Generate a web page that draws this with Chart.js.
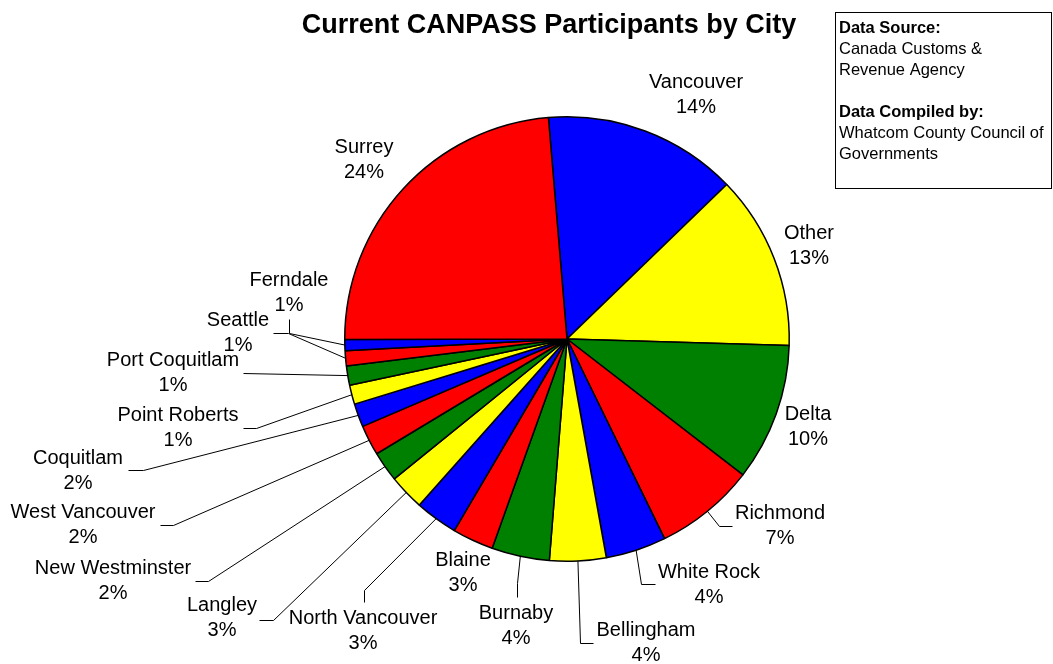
<!DOCTYPE html>
<html>
<head>
<meta charset="utf-8">
<title>Current CANPASS Participants by City</title>
<script src="https://cdn.jsdelivr.net/npm/chart.js@4.4.1/dist/chart.umd.min.js"></script>
<style>
    html, body { margin: 0; padding: 0; background: #ffffff; }
    #wrap { position: relative; width: 1053px; height: 664px; }
</style>
</head>
<body>
<div id="wrap"><canvas id="cityChart" width="1053" height="664"></canvas></div>
<script>
// Current CANPASS participants by home city (percent of all participants)
const cities = [
    'Vancouver', 'Other', 'Delta', 'Richmond', 'White Rock', 'Bellingham',
    'Burnaby', 'Blaine', 'North Vancouver', 'Langley', 'New Westminster',
    'West Vancouver', 'Coquitlam', 'Point Roberts', 'Port Coquitlam',
    'Seattle', 'Ferndale', 'Surrey'
];
const shares = [
    14.1, 12.7, 10.0, 7.3, 4.4, 4.1,
    4.2, 3.0, 3.1, 2.6, 2.2,
    2.2, 1.7, 1.4, 1.4,
    1.1, 0.8, 23.7
];
const sliceColors = [
    '#0000ff', '#ffff00', '#008000', '#ff0000', '#0000ff', '#ffff00',
    '#008000', '#ff0000', '#0000ff', '#ffff00', '#008000',
    '#ff0000', '#0000ff', '#ffff00', '#008000',
    '#ff0000', '#0000ff', '#ff0000'
];

const titleText = 'Current CANPASS Participants by City';
const noteLines = [
    { text: 'Data Source:', bold: true },
    { text: 'Canada Customs &', bold: false },
    { text: 'Revenue Agency', bold: false },
    { text: '', bold: false },
    { text: 'Data Compiled by:', bold: true },
    { text: 'Whatcom County Council of', bold: false },
    { text: 'Governments', bold: false }
];

const FONT = '"Liberation Sans", Arial, Helvetica, sans-serif';

// Label placement, offsets from the pie centre in px.
// text = centre of the city name line, line = leader line points after the rim anchor
const labelLayout = {
    'Vancouver':       { text: [129, -257] },
    'Other':           { text: [242, -106] },
    'Delta':           { text: [241, 75] },
    'Richmond':        { text: [213, 174], line: [[152, 187], [165, 187]] },
    'White Rock':      { text: [142, 233], line: [[74, 245], [88, 245]] },
    'Bellingham':      { text: [79, 291], line: [[13, 304], [26, 304]] },
    'Burnaby':         { text: [-51, 274], line: [[-50, 244], [-50, 258]] },
    'Blaine':          { text: [-104, 221] },
    'North Vancouver': { text: [-204, 279], line: [[-203, 251], [-203, 263]] },
    'Langley':         { text: [-345, 266], line: [[-294, 281], [-308, 281]] },
    'New Westminster': { text: [-454, 229], line: [[-359, 242], [-372, 242]] },
    'West Vancouver':  { text: [-484, 173], line: [[-394, 186], [-407, 186]] },
    'Coquitlam':       { text: [-489, 119], line: [[-424, 131], [-439, 131]] },
    'Point Roberts':   { text: [-389, 76], line: [[-311, 89], [-324, 89]] },
    'Port Coquitlam':  { text: [-394, 21], line: [[-324, 34]] },
    'Seattle':         { text: [-329, -19], line: [[-279, -6], [-294, -6]] },
    'Ferndale':        { text: [-278, -59], line: [[-278, -6], [-278, -20]] },
    'Surrey':          { text: [-203, -192] }
};

// Draws category names, rounded percentages and leader lines for each slice
const pieLabels = {
    id: 'pieLabels',
    afterDatasetsDraw(chart) {
        const ctx = chart.ctx;
        const arcs = chart.getDatasetMeta(0).data;
        const total = shares.reduce((a, b) => a + b, 0);

        ctx.save();
        ctx.fillStyle = '#000000';
        ctx.strokeStyle = '#000000';
        ctx.lineWidth = 1;
        ctx.font = '20px ' + FONT;
        ctx.textAlign = 'center';
        ctx.textBaseline = 'middle';

        arcs.forEach((arc, i) => {
            const p = arc.getProps(['x', 'y', 'startAngle', 'endAngle', 'outerRadius'], true);
            const mid = (p.startAngle + p.endAngle) / 2;
            const lay = labelLayout[cities[i]];

            if (lay.line) {
                ctx.beginPath();
                ctx.moveTo(p.x + Math.cos(mid) * p.outerRadius, p.y + Math.sin(mid) * p.outerRadius);
                lay.line.forEach(pt => ctx.lineTo(p.x + pt[0] + 0.5, p.y + pt[1] + 0.5));
                ctx.stroke();
            }

            const pct = Math.round(shares[i] / total * 100) + '%';
            const tx = p.x + lay.text[0];
            const ty = p.y + lay.text[1];
            ctx.fillText(cities[i], tx, ty);
            ctx.fillText(pct, tx, ty + 25);
        });
        ctx.restore();
    },
    afterDraw(chart) {
        const ctx = chart.ctx;
        ctx.save();

        // chart title
        ctx.fillStyle = '#000000';
        ctx.font = 'bold 27px ' + FONT;
        ctx.textAlign = 'center';
        ctx.textBaseline = 'middle';
        ctx.fillText(titleText, 549, 26);

        // source note box
        ctx.strokeStyle = '#000000';
        ctx.lineWidth = 1;
        ctx.strokeRect(835.5, 12.5, 216, 176);
        ctx.textAlign = 'left';
        noteLines.forEach((line, i) => {
            ctx.font = (line.bold ? 'bold ' : '') + '16.5px ' + FONT;
            ctx.fillText(line.text, 839, 28 + i * 21);
        });
        ctx.restore();
    }
};

new Chart(document.getElementById('cityChart'), {
    type: 'pie',
    data: {
        labels: cities,
        datasets: [{
            data: shares,
            backgroundColor: sliceColors,
            borderColor: '#000000',
            borderWidth: 1.5
        }]
    },
    options: {
        responsive: false,
        animation: false,
        rotation: -4.8,
        layout: {
            padding: { left: 344, right: 263, top: 116, bottom: 102 }
        },
        plugins: {
            legend: { display: false },
            tooltip: { enabled: false },
            title: { display: false }
        }
    },
    plugins: [pieLabels]
});
</script>
</body>
</html>
